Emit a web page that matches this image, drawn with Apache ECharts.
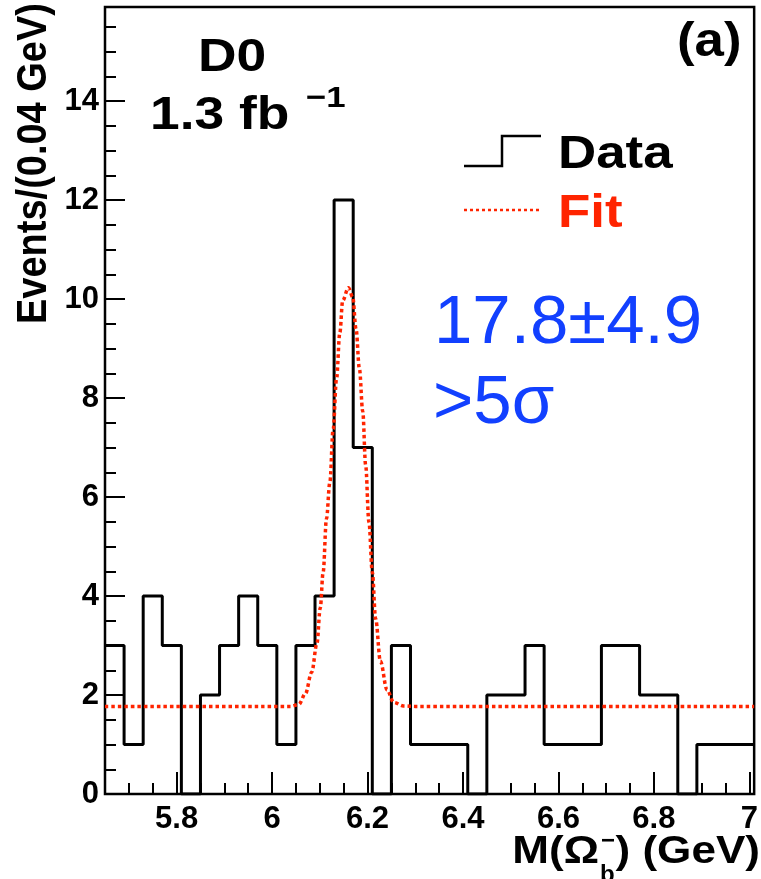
<!DOCTYPE html>
<html>
<head>
<meta charset="utf-8">
<script src="https://cdn.jsdelivr.net/npm/echarts@6/dist/echarts.min.js"></script>
<style>
  html, body { margin: 0; padding: 0; background: #fff; }
  #chart { width: 761px; height: 879px; }
</style>
</head>
<body>
<div id="chart"></div>
<script>
// Omega_b candidate mass histogram, 0.04 GeV bins
const binEdges = [5.65, 5.69, 5.73, 5.77, 5.81, 5.85, 5.89, 5.93, 5.97, 6.01, 6.05, 6.09,
                  6.13, 6.17, 6.21, 6.25, 6.29, 6.33, 6.37, 6.41, 6.45, 6.49, 6.53, 6.57,
                  6.61, 6.65, 6.69, 6.73, 6.77, 6.81, 6.85, 6.89, 6.93, 6.97, 7.01];
const counts = [3, 1, 4, 3, 0, 2, 3, 4, 3, 1, 3, 4,
                12, 7, 0, 3, 1, 1, 1, 0, 2, 2, 3, 1,
                1, 1, 3, 3, 2, 2, 0, 1, 1, 1];

// Fitted signal + flat background, sampled along the curve
const fitMass = [5.65, 6.04, 6.056, 6.07, 6.083, 6.094, 6.101, 6.107, 6.114, 6.121, 6.128,
                 6.135, 6.142, 6.148, 6.160, 6.169, 6.176, 6.183, 6.190, 6.196, 6.203,
                 6.210, 6.217, 6.227, 6.241, 6.255, 6.275, 6.30, 7.01];
const fitValue = [1.77, 1.77, 1.81, 2.03, 2.46, 3.04, 3.76, 4.48, 5.56, 6.29, 7.37,
                  8.38, 9.32, 9.97, 10.23, 10.04, 9.39, 8.59, 7.73, 6.65, 5.49,
                  4.48, 3.54, 2.68, 2.10, 1.85, 1.78, 1.77, 1.77];

// Axis ticks
const xMajorTicks = [5.8, 6.0, 6.2, 6.4, 6.6, 6.8, 7.0];
const xMinorTicks = [5.70, 5.75, 5.85, 5.90, 5.95, 6.05, 6.10, 6.15, 6.25, 6.30, 6.35,
                     6.45, 6.50, 6.55, 6.65, 6.70, 6.75, 6.85, 6.90, 6.95];
const yMajorTicks = [0, 2, 4, 6, 8, 10, 12, 14];
const yMinorTicks = [0.5, 1, 1.5, 2.5, 3, 3.5, 4.5, 5, 5.5, 6.5, 7, 7.5, 8.5, 9, 9.5,
                     10.5, 11, 11.5, 12.5, 13, 13.5, 14.5, 15, 15.5];

const X_MIN = 5.65, X_MAX = 7.01, Y_MIN = 0, Y_MAX = 15.9;

const FONT = '"Liberation Sans", Arial, Helvetica, sans-serif';
const RED = '#ff2400';
const BLUE = '#1240ff';

const histData = binEdges.map((e, i) => [e, counts[Math.min(i, counts.length - 1)]]);
const fitData = fitMass.map((m, i) => [m, fitValue[i]]);

const tickStyle = { color: '#000', width: 2 };

function boldText(x, y, text, size, opts) {
  opts = opts || {};
  return {
    type: 'text', x: x, y: y,
    scaleX: opts.scaleX || 1, scaleY: opts.scaleY || 1,
    rotation: opts.rotation || 0,
    z: 100,
    style: {
      text: text, fontSize: size, fontWeight: opts.weight || 'bold', fontFamily: FONT,
      fill: opts.fill || '#000', align: opts.align || 'left', verticalAlign: 'middle'
    }
  };
}

const chart = echarts.init(document.getElementById('chart'), null, { renderer: 'canvas' });

chart.setOption({
  animation: false,
  backgroundColor: '#fff',
  grid: {
    left: 105, right: 4, top: 7, bottom: 85,
    show: true, borderColor: '#000', borderWidth: 2.5, backgroundColor: 'transparent'
  },
  xAxis: [
    {
      type: 'value', min: X_MIN, max: X_MAX, position: 'bottom',
      axisLine: { show: false }, splitLine: { show: false },
      axisTick: { show: true, inside: true, length: 22, customValues: xMajorTicks, lineStyle: tickStyle },
      axisLabel: {
        customValues: xMajorTicks, fontSize: 31, fontWeight: 'bold', fontFamily: FONT,
        color: '#000', margin: 10
      }
    },
    {
      type: 'value', min: X_MIN, max: X_MAX, position: 'bottom',
      axisLine: { show: false }, splitLine: { show: false }, axisLabel: { show: false },
      axisTick: { show: true, inside: true, length: 11, customValues: xMinorTicks, lineStyle: tickStyle }
    }
  ],
  yAxis: [
    {
      type: 'value', min: Y_MIN, max: Y_MAX, position: 'left',
      axisLine: { show: false }, splitLine: { show: false },
      axisTick: { show: true, inside: true, length: 20, customValues: yMajorTicks, lineStyle: tickStyle },
      axisLabel: {
        customValues: yMajorTicks, fontSize: 31, fontWeight: 'bold', fontFamily: FONT,
        color: '#000', margin: 6
      }
    },
    {
      type: 'value', min: Y_MIN, max: Y_MAX, position: 'left',
      axisLine: { show: false }, splitLine: { show: false }, axisLabel: { show: false },
      axisTick: { show: true, inside: true, length: 11, customValues: yMinorTicks, lineStyle: tickStyle }
    }
  ],
  series: [
    {
      name: 'Data', type: 'line', step: 'end', data: histData,
      xAxisIndex: 0, yAxisIndex: 0,
      showSymbol: false, symbol: 'none',
      lineStyle: { color: '#000', width: 3 },
      z: 2
    },
    {
      name: 'Fit', type: 'line', data: fitData, smooth: 0.35, smoothMonotone: 'x',
      xAxisIndex: 0, yAxisIndex: 0,
      showSymbol: false, symbol: 'none',
      lineStyle: { color: RED, width: 3.5, type: [3.5, 3] },
      z: 3
    }
  ],
  graphic: [
    // experiment and luminosity
    boldText(198, 58, 'D0', 46, { scaleX: 1.16 }),
    boldText(150, 116, '1.3 fb', 46, { scaleX: 1.16 }),
    boldText(306, 99, '\u22121', 30, { scaleX: 1.16 }),
    // panel tag
    boldText(677, 43, '(a)', 48, { scaleX: 1.1 }),
    // legend
    {
      type: 'polyline', z: 100,
      shape: { points: [[464, 166], [502, 166], [502, 136], [541, 136]] },
      style: { stroke: '#000', lineWidth: 2.5, fill: null }
    },
    boldText(558, 155, 'Data', 46, { scaleX: 1.15 }),
    {
      type: 'line', z: 100,
      shape: { x1: 464, y1: 210, x2: 541, y2: 210 },
      style: { stroke: RED, lineWidth: 2.5, lineDash: [3, 3] }
    },
    boldText(558, 214, 'Fit', 46, { scaleX: 1.15, fill: RED }),
    // signal yield and significance
    boldText(434, 324, '17.8\u00b14.9', 69, { weight: 'normal', fill: BLUE }),
    boldText(433, 404, '>5\u03c3', 69, { weight: 'normal', fill: BLUE }),
    // axis titles
    boldText(34, 3, 'Events/(0.04 GeV)', 38, { rotation: Math.PI / 2, align: 'right', scaleY: 1.1 }),
    boldText(599, 853, 'M(\u03a9', 38, { align: 'right', scaleX: 1.16 }),
    boldText(600, 875, 'b', 24, {}),
    boldText(601, 841, '\u2212', 24, {}),
    boldText(760, 853, ') (GeV)', 38, { align: 'right', scaleX: 1.16 })
  ]
});
</script>
</body>
</html>
